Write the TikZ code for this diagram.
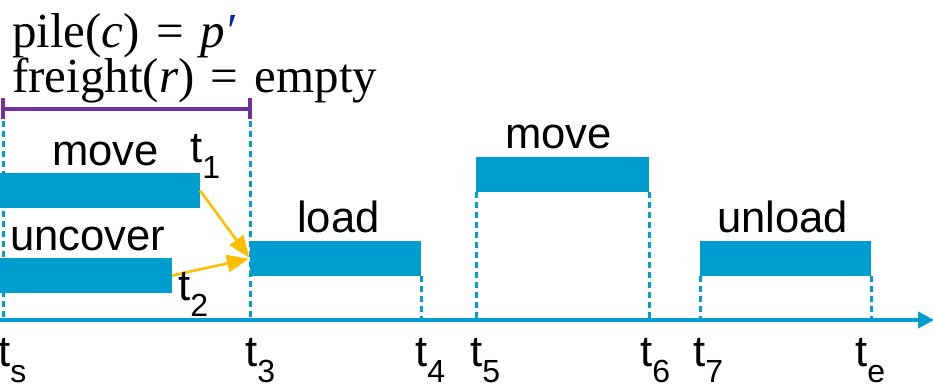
\documentclass[tikz,border=0pt]{standalone}
\usepackage{fontspec}
\setmainfont{Liberation Serif}
\setsansfont{Liberation Sans}
\usetikzlibrary{arrows.meta}
\definecolor{barblue}{RGB}{0,158,206}
\definecolor{linkorange}{RGB}{255,190,0}
\definecolor{spanpurple}{RGB}{112,48,160}
\definecolor{primeblue}{RGB}{0,40,160}
% time label: t with a sans subscript
\newcommand{\tlab}[1]{t\raisebox{-0.38em}{\fontsize{32}{32}\selectfont #1}}
\begin{document}
\begin{tikzpicture}[x=1pt,y=-1pt,
  bar/.style={fill=barblue, inner sep=0pt, outer sep=0pt, anchor=north west, minimum height=35pt},
  guide/.style={draw=barblue, line width=3pt, dash pattern=on 6pt off 4pt},
  axisline/.style={draw=barblue, line width=4.6pt, -{Triangle[length=16pt,width=16pt]}},
  link/.style={draw=linkorange, line width=2.6pt, -{Triangle[length=22pt,width=17pt]}, shorten >=1pt},
  span/.style={draw=spanpurple, line width=4.4pt},
  act/.style={font=\sffamily\fontsize{43.6}{44}\selectfont, inner sep=0pt, anchor=base west},
  stamp/.style={font=\sffamily\fontsize{43.6}{44}\selectfont, inner sep=0pt, anchor=base west},
  cond/.style={font=\rmfamily\fontsize{49}{50}\selectfont, inner sep=0pt, anchor=base west}]
\useasboundingbox (0,0) rectangle (933,389);

% time axis and its stops
\coordinate (axL) at (0,320);
\coordinate (axR) at (934,320);
\coordinate (ps) at (3,320);
\coordinate (p3) at (250,320);
\coordinate (p4) at (421,320);
\coordinate (p5) at (476,320);
\coordinate (p6) at (649,320);
\coordinate (p7) at (700,320);
\coordinate (pe) at (871,320);
\coordinate (qs) at (3,111);
\coordinate (q3) at (250,111);

% dashed guides down to the axis
\draw[guide] (qs) -- (ps);
\draw[guide] (q3) -- (p3);

% activity bars
\node[bar, minimum width=200pt] (mv1) at (0,173) {};
\node[bar, minimum width=172pt] (unc) at (0,258) {};
\node[bar, minimum width=171pt] (ld) at (250,241) {};
\node[bar, minimum width=173pt] (mv2) at (476,157) {};
\node[bar, minimum width=171pt] (ul) at (700,241) {};

\draw[guide] (ld.south east) -- (p4);
\draw[guide] (mv2.south west) -- (p5);
\draw[guide] (mv2.south east) -- (p6);
\draw[guide] (ul.south west) -- (p7);
\draw[guide] (ul.south east) -- (pe);

\draw[axisline] (axL) -- (axR);

% precedence links
\draw[link] (mv1.east) -- (ld.west);
\draw[link] (unc.east) -- (ld.west);

% span of the conditions
\coordinate (b1) at (3,109);
\coordinate (b2) at (250,109);
\draw[span] (b1) -- (b2);
\draw[span] ([yshift=-10pt]b1) -- ([yshift=11pt]b1);
\draw[span] ([yshift=-10pt]b2) -- ([yshift=11pt]b2);

% conditions
\node[cond] (c1) at (12,47) {pile(\textit{c})\,\,=\,\,\textit{p}\textcolor{primeblue}{\textit{\char"2032}}};
\node[cond] (c2) at (12,92) {freight(\textit{r})\,\,=\,\,empty};

% activity names
\node[act] (n1) at (52,165) {move};
\node[act] (n2) at (10,250) {uncover};
\node[act] (n3) at (297,232) {load};
\node[act] (n4) at (505,148) {move};
\node[act] (n5) at (717,232) {unload};

% time stamps
\node[stamp] (t1) at (190,162) {\tlab{1}};
\node[stamp] (t2) at (178,300) {\tlab{2}};
\node[stamp] (ts) at (-2,366) {\tlab{s}};
\node[stamp] (t3) at (245,366) {\tlab{3}};
\node[stamp] (t4) at (415,366) {\tlab{4}};
\node[stamp] (t5) at (470,366) {\tlab{5}};
\node[stamp] (t6) at (640,366) {\tlab{6}};
\node[stamp] (t7) at (693,366) {\tlab{7}};
\node[stamp] (te) at (855,366) {\tlab{e}};
\end{tikzpicture}
\end{document}
